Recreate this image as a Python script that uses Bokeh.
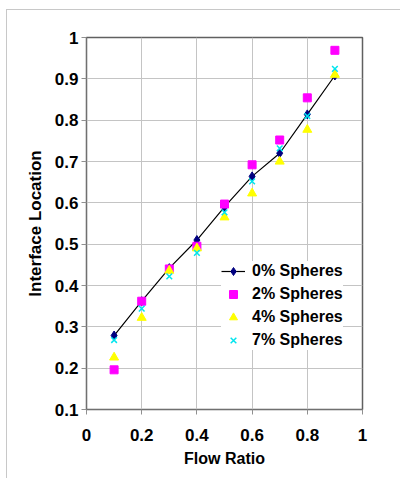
from bokeh.plotting import figure
from bokeh.models import Range1d, FixedTicker, Legend
from bokeh.embed import file_html
from bokeh.resources import INLINE

flow_ratio = [0.1, 0.2, 0.3, 0.4, 0.5, 0.6, 0.7, 0.8, 0.9]
spheres_0 = [0.279, 0.362, 0.442, 0.510, 0.590, 0.664, 0.720, 0.814, 0.908]
spheres_2 = [0.196, 0.362, 0.440, 0.495, 0.597, 0.692, 0.752, 0.854, 0.969]
spheres_4 = [0.226, 0.322, 0.436, 0.490, 0.565, 0.623, 0.700, 0.777, 0.910]
spheres_7 = [0.268, 0.344, 0.422, 0.479, 0.577, 0.652, 0.732, 0.810, 0.924]
x_ticks = [0, 0.2, 0.4, 0.6, 0.8, 1]
y_ticks = [0.1, 0.2, 0.3, 0.4, 0.5, 0.6, 0.7, 0.8, 0.9, 1]

FONT = "Liberation Sans"

p = figure(width=394, height=469, output_backend="svg", toolbar_location=None,
           x_range=Range1d(0, 1), y_range=Range1d(0.1, 1),
           min_border_left=79, min_border_right=39, min_border_top=27, min_border_bottom=70,
           styles={"margin-left": "6px", "margin-top": "9px",
                   "border-left": "1px solid #c8c8c8", "border-top": "1px solid #c8c8c8"})
p.background_fill_color = "white"
p.border_fill_color = "white"
p.outline_line_color = "#606060"
p.outline_line_width = 1.5

for ax in (p.xaxis[0], p.yaxis[0]):
    ax.axis_line_color = "#707070"
    ax.major_tick_line_color = "#909090"
    ax.major_tick_in = 0
    ax.major_tick_out = 5
    ax.minor_tick_line_color = None
    ax.major_label_text_font = FONT
    ax.major_label_text_font_style = "bold"
    ax.major_label_text_font_size = "17px"
    ax.major_label_text_color = "black"
    ax.axis_label_text_font = FONT
    ax.axis_label_text_font_style = "bold"
    ax.axis_label_text_font_size = "16px"
    ax.axis_label_text_color = "black"
p.yaxis.axis_label_text_font_size = "17px"

p.xaxis.ticker = FixedTicker(ticks=x_ticks)
p.yaxis.ticker = FixedTicker(ticks=y_ticks)
p.xaxis.major_label_overrides = {0: "0", 1: "1"}
p.yaxis.major_label_overrides = {1: "1"}
p.xaxis.major_label_standoff = 14
p.yaxis.major_label_standoff = 3
p.xaxis.axis_label = "Flow Ratio"
p.yaxis.axis_label = "Interface Location"
p.xaxis.axis_label_standoff = 6
p.yaxis.axis_label_standoff = 7

for g in (p.xgrid[0], p.ygrid[0]):
    g.grid_line_color = "#c4c4c4"
    g.grid_line_width = 1
p.xgrid.ticker = FixedTicker(ticks=x_ticks)
p.ygrid.ticker = FixedTicker(ticks=y_ticks)

l0 = p.line(flow_ratio, spheres_0, line_color="black", line_width=1.2)
s0 = p.scatter(flow_ratio, spheres_0, marker="diamond", size=9, fill_color="#000080",
               line_color="#000080")
s2 = p.scatter(flow_ratio, spheres_2, marker="square", size=8, fill_color="#ff00ff",
               line_color="#ff00ff")
s4 = p.scatter(flow_ratio, spheres_4, marker="triangle", size=9, fill_color="#ffff00",
               line_color="#ffff00")
s7 = p.scatter(flow_ratio, spheres_7, marker="x", size=8, line_color="#00e5ee", line_width=1.5)

legend = Legend(items=[("0% Spheres", [l0, s0]), ("2% Spheres", [s2]),
                       ("4% Spheres", [s4]), ("7% Spheres", [s7])],
                location=(135, 59))
legend.label_text_font = FONT
legend.label_text_font_style = "bold"
legend.label_text_font_size = "16px"
legend.label_text_color = "black"
legend.border_line_color = None
legend.background_fill_color = "white"
legend.background_fill_alpha = 1
legend.glyph_width = 24
legend.glyph_height = 20
legend.label_height = 20
legend.spacing = 3
legend.padding = 5
legend.margin = 0
legend.label_standoff = 7
p.add_layout(legend, "center")

open("out.html", "w").write(file_html(p, INLINE))
